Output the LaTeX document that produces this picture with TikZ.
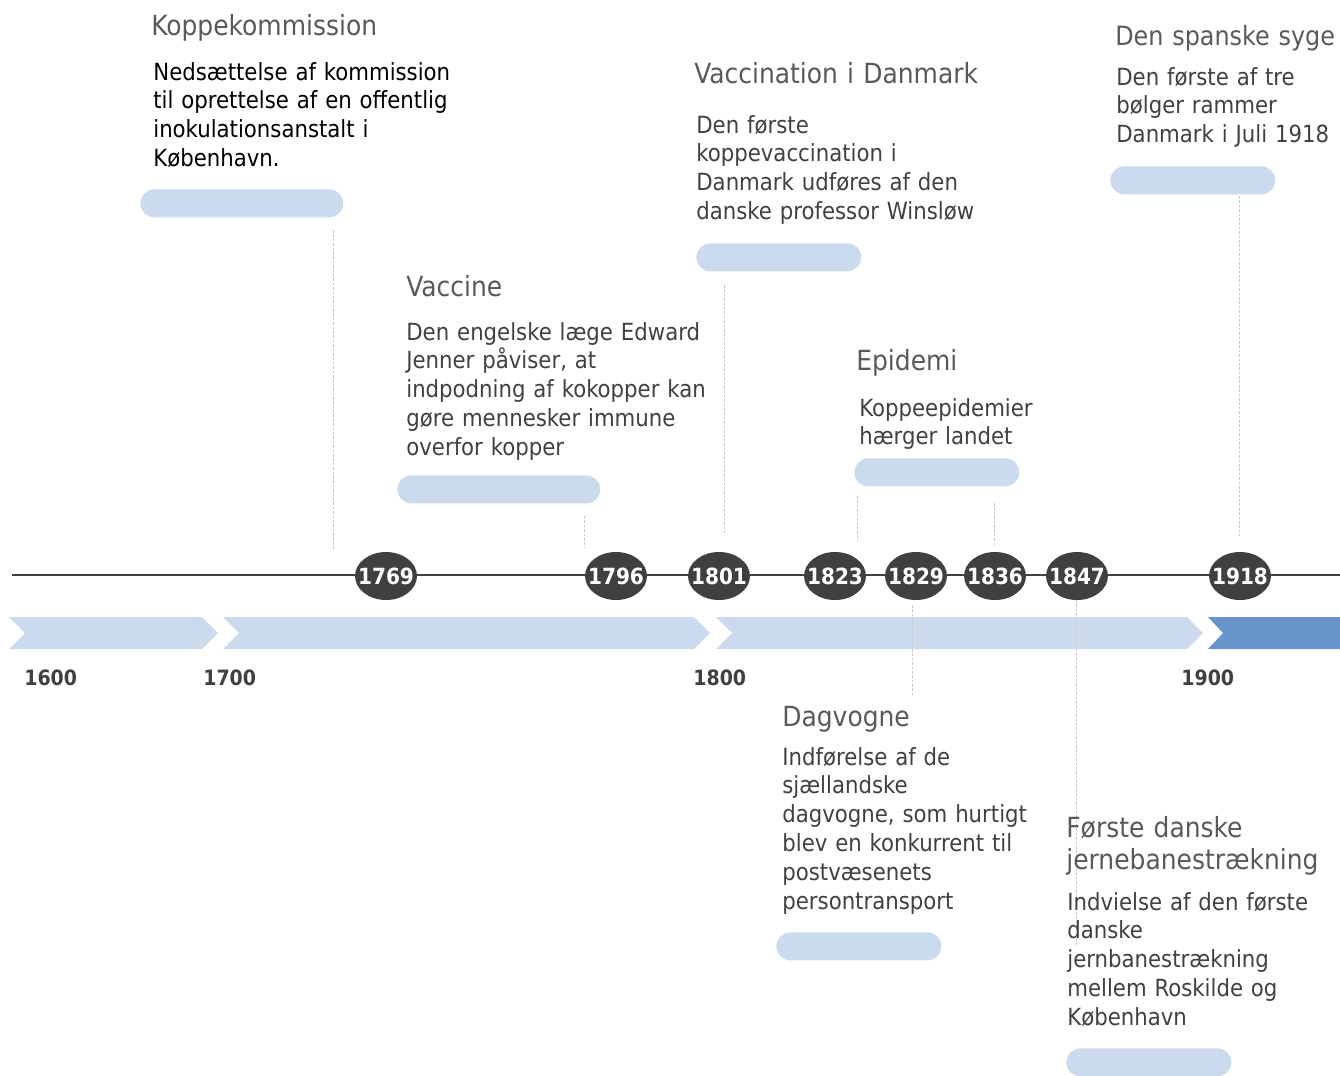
\documentclass[tikz,border=0pt]{standalone}
\usepackage{fontspec}
\setmainfont{DejaVu Sans Condensed}
\usetikzlibrary{calc,shapes.geometric}

\definecolor{bandblue}{HTML}{CCDAED}
\definecolor{bandnavy}{HTML}{6894CC}
\definecolor{markgray}{HTML}{404040}
\definecolor{headgray}{HTML}{595959}
\definecolor{leadgray}{HTML}{C8C8C8}

\tikzset{
  yearmark/.style={ellipse, fill=markgray, text=white, inner xsep=-3.5pt, inner ysep=0pt,
    minimum width=1.24cm, minimum height=0.96cm,
    font=\bfseries\fontsize{12.7}{14}\selectfont},
  century/.style={anchor=base west, text=markgray, inner sep=0pt,
    font=\bfseries\fontsize{12}{14}\selectfont},
  headline/.style={anchor=base west, text=headgray, inner sep=0pt,
    text width=10cm, align=left, font=\fontsize{15.8}{18.7}\selectfont},
  bodytext/.style={anchor=base west, text=markgray, inner sep=0pt,
    text width=10cm, align=left, font=\fontsize{13.45}{16.44}\selectfont},
  pill/.style={anchor=north west, fill=bandblue, rounded corners=7.9pt,
    inner sep=0pt, minimum height=0.56cm, minimum width=3.3cm},
  widepill/.style={pill, minimum width=4.06cm},
  leader/.style={draw=leadgray, line width=0.4pt, dash pattern=on 1.5pt off 1pt},
  axis/.style={draw=markgray, line width=1.1pt}
}

\begin{document}
\begin{tikzpicture}[x=0.02cm, y=-0.02cm]
  \useasboundingbox (0,0) rectangle (1340,1076);

  \foreach \a/\b in {9/202, 223/694, 716/1187}
    {
      \fill[bandblue] (\a,617) -- (\b,617) -- ({\b+16},633) -- (\b,649)
        -- (\a,649) -- ({\a+16},633) -- cycle;
    }
  \fill[bandnavy] (1208,617) -- (1340,617) -- (1340,649) -- (1208,649)
    -- (1223,633) -- cycle;

  \node (c1600) at (24,685) [century] {1600};
  \node (c1700) at (203,685) [century] {1700};
  \node (c1800) at (693,685) [century] {1800};
  \node (c1900) at (1181,685) [century] {1900};

  \coordinate (tstart) at (12,575);
  \coordinate (tend) at (1340,575);
  \draw[axis] (tstart) -- (tend);

  \foreach \yr/\px in {1769/386, 1796/616, 1801/719, 1823/835,
                       1829/916, 1836/995, 1847/1077, 1918/1240}
    {
      \node (y\yr) at (\px,576) [yearmark] {\yr};
    }

  \foreach \n/\lx/\ya/\yb in {kop/333/230/549, vac/584/516/547, dan/724/285/533,
                              epiA/857/496/540, epiB/994/503/545, syg/1239/196/536,
                              dag/912/605/695, jern/1076/600/945}
    {
      \coordinate (\n top) at (\lx,\ya);
      \coordinate (\n bot) at (\lx,\yb);
      \draw[leader] (\n top) -- (\n bot);
    }

  \node (hKop) at (151,35) [headline] {Koppekommission};
  \node (tKop) at (153,80) [bodytext, text=black] {Nedsættelse af kommission\\til oprettelse af en offentlig\\inokulationsanstalt i\\København.};
  \node (pKop) at (140,189) [widepill] {};

  \node (hVac) at (406,296) [headline] {Vaccine};
  \node (tVac) at (406,340) [bodytext] {Den engelske læge Edward\\Jenner påviser, at\\indpodning af kokopper kan\\gøre mennesker immune\\overfor kopper};
  \node (pVac) at (397,475) [widepill] {};

  \node (hDan) at (694,83) [headline] {Vaccination i Danmark};
  \node (tDan) at (696,133) [bodytext] {Den første\\koppevaccination i\\Danmark udføres af den\\danske professor Winsløw};
  \node (pDan) at (696,243) [pill] {};

  \node (hEpi) at (856,370) [headline] {Epidemi};
  \node (tEpi) at (859,416) [bodytext] {Koppeepidemier\\hærger landet};
  \node (pEpi) at (854,458) [pill] {};

  \node (hSyg) at (1115,45) [headline, font=\fontsize{15.1}{18.7}\selectfont] {Den spanske syge};
  \node (tSyg) at (1116,85) [bodytext] {Den første af tre\\bølger rammer\\Danmark i Juli 1918};
  \node (pSyg) at (1110,166) [pill] {};

  \node (hDag) at (782,726) [headline] {Dagvogne};
  \node (tDag) at (782,765) [bodytext] {Indførelse af de\\sjællandske\\dagvogne, som hurtigt\\blev en konkurrent til\\postvæsenets\\persontransport};
  \node (pDag) at (776,932) [pill] {};

  \node (hJern) at (1066,837) [headline] {Første danske\\jernebanestrækning};
  \node (tJern) at (1067,910) [bodytext] {Indvielse af den første\\danske\\jernbanestrækning\\mellem Roskilde og\\København};
  \node (pJern) at (1066,1048) [pill] {};

\end{tikzpicture}
\end{document}
